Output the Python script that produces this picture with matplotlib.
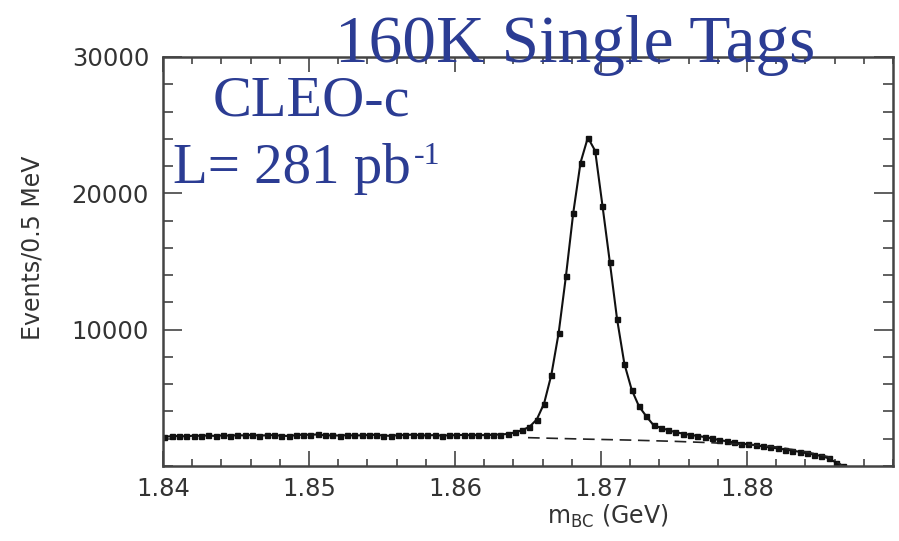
import numpy as np
import matplotlib
matplotlib.use("Agg")
import matplotlib.pyplot as plt
from matplotlib.ticker import MultipleLocator

# ---- data ----
bin_start = 1.8401      # GeV, first bin centre
bin_width = 0.0005      # GeV (0.5 MeV)
events = [
    2150, 2180, 2200, 2170, 2230, 2210, 2240, 2200, 2250, 2220,
    2260, 2240, 2280, 2230, 2250, 2270, 2220, 2200, 2260, 2300,
    2280, 2320, 2240, 2250, 2230, 2260, 2240, 2250, 2270, 2290,
    2230, 2210, 2260, 2270, 2300, 2250, 2240, 2270, 2230, 2250,
    2260, 2280, 2250, 2270, 2260, 2290, 2310, 2350, 2460, 2630,
    2870, 3410, 4580, 6690, 9760, 13940, 18570, 22260, 24090, 23120,
    19100, 14990, 10780, 7500, 5600, 4380, 3650, 2990, 2800, 2630,
    2480, 2380, 2280, 2210, 2120, 2030, 1900, 1820, 1730, 1650,
    1580, 1530, 1440, 1360, 1290, 1210, 1130, 1040, 930, 840,
    730, 560, 250, 0,
]
bg_mass = [1.8650, 1.8660, 1.8690, 1.8720, 1.8750, 1.8775, 1.8800,
           1.8820, 1.8840, 1.8855, 1.8866]
bg_events = [2080, 2050, 1970, 1900, 1810, 1710, 1570, 1400, 1050, 700, 0]

title_text = "160K Single Tags"
exp_text = "CLEO-c"
lumi_text = "L= 281 pb"
lumi_sup = "-1"

mass = bin_start + bin_width * np.arange(len(events))

blue = "#2b3c93"
gray = "#333333"

fig = plt.figure(figsize=(8.99, 5.41), dpi=100)
ax = fig.add_axes([163/899, 1-466/541, (893-163)/899, (466-57)/541])

ax.plot(mass, events, color="#111111", lw=1.5, marker="s", ms=3.6,
        mfc="#111111", mec="#111111")
ax.plot(bg_mass, bg_events, color="#222222", lw=1.2, ls=(0, (7, 4)))

ax.set_xlim(1.84, 1.89)
ax.set_ylim(0, 30000)
ax.xaxis.set_major_locator(MultipleLocator(0.01))
ax.xaxis.set_minor_locator(MultipleLocator(0.002))
ax.yaxis.set_major_locator(MultipleLocator(10000))
ax.yaxis.set_minor_locator(MultipleLocator(2000))
ax.set_xticks([1.84, 1.85, 1.86, 1.87, 1.88])
ax.set_xticklabels(["1.84", "1.85", "1.86", "1.87", "1.88"])
ax.set_yticks([10000, 20000, 30000])
ax.set_yticklabels(["10000", "20000", "30000"])

for s in ax.spines.values():
    s.set_linewidth(1.8)
    s.set_color("#444444")

ax.tick_params(which="both", direction="in", top=True, right=True,
               color="#444444", width=1.2, labelcolor=gray)
ax.tick_params(axis="x", which="major", length=11, pad=8, labelsize=17.5)
ax.tick_params(axis="x", which="minor", length=5)
ax.tick_params(axis="y", which="major", length=14, pad=10, labelsize=17.5)
ax.tick_params(axis="y", which="minor", length=7)

ax.set_xlabel(r"m$_{\mathrm{BC}}$ (GeV)", fontsize=17, color=gray)
ax.xaxis.set_label_coords(0.61, -0.09)
ax.set_ylabel("Events/0.5 MeV", fontsize=17, color=gray)
ax.yaxis.set_label_coords(-0.163, 0.533)

serif = ["Liberation Serif", "DejaVu Serif"]
fig.text(335/899, 1-62/541, title_text, fontsize=48.5, color=blue,
         family=serif, va="baseline", ha="left")
fig.text(213/899, 1-116/541, exp_text, fontsize=42, color=blue,
         family=serif, va="baseline", ha="left")
fig.text(173/899, 1-183/541, lumi_text, fontsize=41, color=blue,
         family=serif, va="baseline", ha="left")
fig.text(414/899, 1-164/541, lumi_sup, fontsize=23, color=blue,
         family=serif, va="baseline", ha="left")

fig.savefig("out.png", dpi=100)
